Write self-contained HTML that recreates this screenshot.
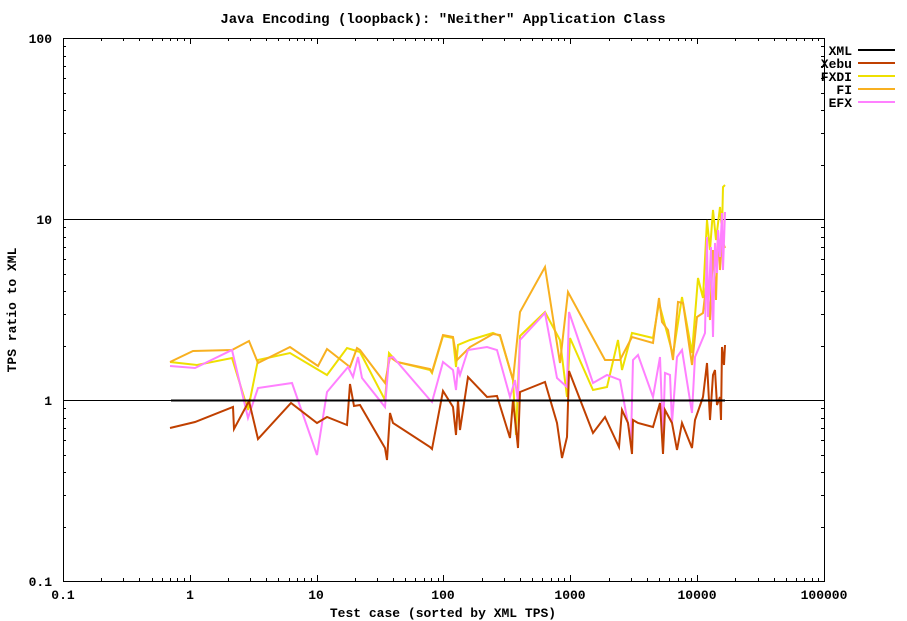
<!DOCTYPE html>
<html><head><meta charset="utf-8"><style>
html,body{margin:0;padding:0;background:#fff;}
svg{display:block;font-family:"Liberation Mono",monospace;font-size:13px;font-weight:bold;}
</style></head><body>
<svg width="907" height="621" viewBox="0 0 907 621" xmlns="http://www.w3.org/2000/svg">
<rect width="907" height="621" fill="#fff"/>
<path stroke="#000" stroke-width="1" fill="none" d="
M63.5 581v-6M63.5 38v6M190.5 581v-6M190.5 38v6M317.5 581v-6M317.5 38v6M443.5 581v-6M443.5 38v6M570.5 581v-6M570.5 38v6M697.5 581v-6M697.5 38v6
M101.5 581v-3M123.5 581v-3M139.5 581v-3M152.5 581v-3M162.5 581v-3M170.5 581v-3M177.5 581v-3M184.5 581v-3
M228.5 581v-3M250.5 581v-3M266.5 581v-3M278.5 581v-3M289.5 581v-3M297.5 581v-3M304.5 581v-3M311.5 581v-3
M355.5 581v-3M377.5 581v-3M393.5 581v-3M405.5 581v-3M415.5 581v-3M424.5 581v-3M431.5 581v-3M438.5 581v-3
M482.5 581v-3M504.5 581v-3M520.5 581v-3M532.5 581v-3M542.5 581v-3M551.5 581v-3M558.5 581v-3M564.5 581v-3
M609.5 581v-3M631.5 581v-3M647.5 581v-3M659.5 581v-3M669.5 581v-3M678.5 581v-3M685.5 581v-3M691.5 581v-3
M735.5 581v-3M758.5 581v-3M774.5 581v-3M786.5 581v-3M796.5 581v-3M804.5 581v-3M812.5 581v-3M818.5 581v-3
M101.5 38v3M123.5 38v3M139.5 38v3M152.5 38v3M162.5 38v3M170.5 38v3M177.5 38v3M184.5 38v3
M228.5 38v3M250.5 38v3M266.5 38v3M278.5 38v3M289.5 38v3M297.5 38v3M304.5 38v3M311.5 38v3
M355.5 38v3M377.5 38v3M393.5 38v3M405.5 38v3M415.5 38v3M424.5 38v3M431.5 38v3M438.5 38v3
M482.5 38v3M504.5 38v3M520.5 38v3M532.5 38v3M542.5 38v3M551.5 38v3M558.5 38v3M564.5 38v3
M609.5 38v3M631.5 38v3M647.5 38v3M659.5 38v3M669.5 38v3M678.5 38v3M685.5 38v3M691.5 38v3
M735.5 38v3M758.5 38v3M774.5 38v3M786.5 38v3M796.5 38v3M804.5 38v3M812.5 38v3M818.5 38v3
M63 527.5h3M63 495.5h3M63 472.5h3M63 455.5h3M63 440.5h3M63 428.5h3M63 418.5h3M63 408.5h3
M63 346.5h3M63 314.5h3M63 291.5h3M63 274.5h3M63 259.5h3M63 247.5h3M63 237.5h3M63 227.5h3
M63 165.5h3M63 133.5h3M63 110.5h3M63 93.5h3M63 78.5h3M63 66.5h3M63 56.5h3M63 46.5h3
M824 527.5h-3M824 495.5h-3M824 472.5h-3M824 455.5h-3M824 440.5h-3M824 428.5h-3M824 418.5h-3M824 408.5h-3
M824 346.5h-3M824 314.5h-3M824 291.5h-3M824 274.5h-3M824 259.5h-3M824 247.5h-3M824 237.5h-3M824 227.5h-3
M824 165.5h-3M824 133.5h-3M824 110.5h-3M824 93.5h-3M824 78.5h-3M824 66.5h-3M824 56.5h-3M824 46.5h-3
"/>
<line x1="63" y1="219.5" x2="824" y2="219.5" stroke="#000"/>
<line x1="63" y1="400.5" x2="824" y2="400.5" stroke="#000"/>
<rect x="63.5" y="38.5" width="761" height="543" fill="none" stroke="#000"/>
<g text-anchor="end">
<text x="52" y="43">100</text><text x="52" y="224">10</text><text x="52" y="405">1</text><text x="52" y="586">0.1</text>
</g>
<g text-anchor="middle">
<text x="63" y="599">0.1</text><text x="190" y="599">1</text><text x="316" y="599">10</text><text x="443" y="599">100</text><text x="570" y="599">1000</text><text x="697" y="599">10000</text><text x="824" y="599">100000</text>
<text x="443" y="23" style="font-size:14px">Java Encoding (loopback): "Neither" Application Class</text>
<text x="443" y="617">Test case (sorted by XML TPS)</text>
<text transform="translate(16,310) rotate(-90)">TPS ratio to XML</text>
</g>
<g text-anchor="end">
<text x="852" y="55">XML</text><text x="852" y="68">Xebu</text><text x="852" y="81">FXDI</text><text x="852" y="94">FI</text><text x="852" y="107">EFX</text>
</g>
<g stroke-width="2">
<line x1="858" y1="50" x2="895" y2="50" stroke="#000"/>
<line x1="858" y1="63" x2="895" y2="63" stroke="#c04000"/>
<line x1="858" y1="76" x2="895" y2="76" stroke="#eee000"/>
<line x1="858" y1="89" x2="895" y2="89" stroke="#f8b020"/>
<line x1="858" y1="102" x2="895" y2="102" stroke="#ff80ff"/>
</g>
<g fill="none" stroke-width="2" stroke-linejoin="miter">
<polyline stroke="#eee000" points="170,362 197,365 232,358 248,410 258,360 290,353 327,375 347,348 360,352 385,400 389,353 397,362 430,370 432,373 443,336 453,338 456,367 458,345 470,340 493,333 500,336 513,380 516,435 520,336 545,312 560,340 567,397 570,338 593,390 607,387 618,340 622,370 632,333 653,338 659,303 673,355 682,297 692,353 698,278 703,298 707,220 710,250 713,210 716,240 720,207 722,230 723,187 725,185"/>
<polyline stroke="#f8b020" points="170,362 193,351 232,350 249,341 258,363 290,347 318,366 327,349 350,367 357,348 360,350 385,383 390,357 397,362 430,369 432,372 443,335 453,337 457,360 470,347 493,334 500,335 513,380 520,312 545,267 560,363 568,292 605,360 620,360 632,337 653,343 659,298 662,322 668,330 673,360 678,302 683,303 692,365 697,317 703,313 707,278 710,320 713,250 716,300 718,230 720,270 722,240 725,248"/>
<polyline stroke="#ff80ff" points="170,366 195,368 232,350 248,418 258,388 292,383 317,455 327,392 348,367 353,377 358,357 362,378 385,407 389,358 393,357 430,400 432,402 443,362 453,370 456,390 458,367 460,375 468,350 487,347 497,350 510,397 515,380 518,402 520,340 545,313 557,378 567,387 569,312 593,383 607,375 620,380 631,440 633,360 638,355 653,397 660,357 663,437 665,373 670,375 672,423 677,357 682,350 692,413 695,357 705,333 707,237 708,317 711,247 713,337 715,243 717,273 718,230 720,257 722,213 723,270 725,212"/>
<polyline stroke="#c04000" points="170,428 195,422 233,407 234,429 249,401 258,439 291,403 317,423 327,417 347,425 350,384 354,406 360,405 385,448 387,460 390,413 393,423 430,447 432,449 443,391 453,407 456,435 458,400 460,430 468,377 487,397 497,396 510,438 513,400 518,448 520,392 545,382 557,423 562,458 567,437 569,371 593,433 605,417 619,447 622,410 628,423 632,454 633,420 638,423 653,427 660,403 663,454 665,410 672,423 677,450 682,423 692,448 695,420 703,397 707,363 710,420 713,375 715,370 717,405 720,397 721,420 722,347 724,365 725,345"/>
<line x1="171" y1="400.5" x2="725" y2="400.5" stroke="#000"/>
</g>
</svg>
</body></html>
